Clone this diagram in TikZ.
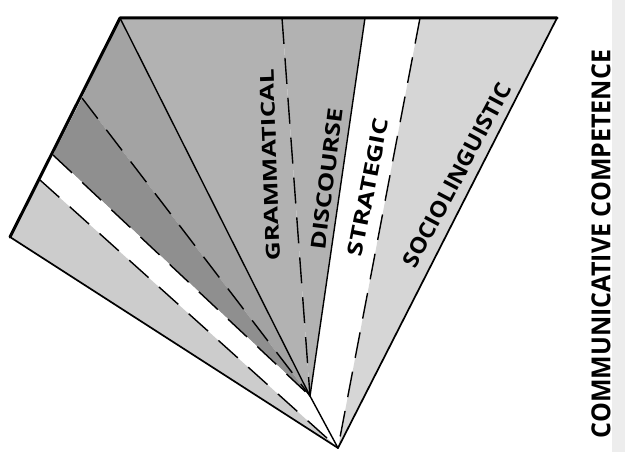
\documentclass[tikz,border=0pt]{standalone}
\usepackage{fontspec}
\newfontfamily\hand{Open Sans}
\usetikzlibrary{calc}
\newcommand{\lbl}[3]{\resizebox{#1pt}{#2pt}{\hand\bfseries #3}}
\tikzset{
  edgethick/.style={line width=3pt, line cap=round, line join=round},
  edgeline/.style={line width=1.7pt, line cap=round},
  inline/.style={line width=1.4pt, line cap=round},
  dashline/.style={line width=1.4pt, dash pattern=on 26pt off 14pt},
  lab/.style={inner sep=0pt, outer sep=0pt}
}
\definecolor{rmid}{gray}{0.70}
\definecolor{rlight}{gray}{0.84}
\definecolor{lmid}{gray}{0.64}
\definecolor{ldark}{gray}{0.56}
\definecolor{llight}{gray}{0.80}
\begin{document}
\begin{tikzpicture}[x=1pt,y=-1pt]
\useasboundingbox (0,0) rectangle (625,452);
% key points
\coordinate (TL) at (120,18);
\coordinate (TR) at (557,18);
\coordinate (L) at (10,237);
\coordinate (A) at (338,448);
\coordinate (C) at (310,396);
\coordinate (T1) at (282,18);
\coordinate (T2) at (365,18);
\coordinate (T3) at (420,18);
\coordinate (E1) at (82,98);
\coordinate (E2) at (53,155);
\coordinate (E3) at (40,180);
% scan strip at right
\fill[gray!14] (612,0) rectangle (625,452);
% right face fills
\fill[rmid] (TL) -- (T1) -- (C) -- cycle;
\fill[rmid] (T1) -- (T2) -- (C) -- cycle;
\fill[white] (T2) -- (T3) -- (A) -- (C) -- cycle;
\fill[rlight] (T3) -- (TR) -- (A) -- cycle;
% left face fills
\fill[lmid] (TL) -- (E1) -- (C) -- cycle;
\fill[ldark] (E1) -- (E2) -- (C) -- cycle;
\fill[white] (E2) -- (E3) -- (A) -- (C) -- cycle;
\fill[llight] (E3) -- (L) -- (A) -- cycle;
% lines
\draw[inline] (TL) -- (C);
\draw[inline] (C) -- (A);
\draw[inline] (T2) -- (C);
\draw[dashline] (T1) -- (C);
\draw[dashline] (T3) -- (A);
\draw[dashline] (E1) -- (C);
\draw[dashline] (E2) -- (C);
\draw[dashline] (E3) -- (A);
\draw[edgeline] (TR) -- (A);
\draw[edgeline] (L) -- (A);
\draw[edgethick] (L) -- (TL) -- (TR);
% labels
\node[lab, rotate=92] (gram) at (270,165) {\lbl{192}{14}{GRAMMATICAL}};
\node[lab, rotate=83] (disc) at (327,179) {\lbl{143}{15}{DISCOURSE}};
\node[lab, rotate=79] (strat) at (368,187) {\lbl{140}{15}{STRATEGIC}};
\node[lab, rotate=62] (socio) at (457,175) {\lbl{205}{16}{SOCIOLINGUISTIC}};
\node[lab, rotate=90] (cc) at (601,244) {\lbl{388}{19}{COMMUNICATIVE COMPETENCE}};
\end{tikzpicture}
\end{document}
